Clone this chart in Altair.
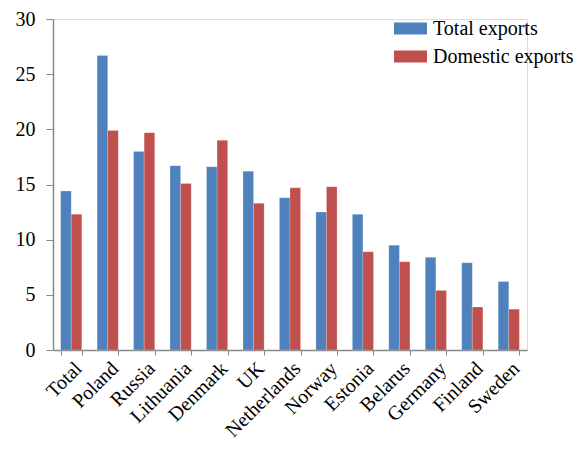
import altair as alt
import pandas as pd

countries = ["Total", "Poland", "Russia", "Lithuania", "Denmark", "UK", "Netherlands",
             "Norway", "Estonia", "Belarus", "Germany", "Finland", "Sweden"]
total_exports = [14.4, 26.7, 18.0, 16.7, 16.6, 16.2, 13.8, 12.5, 12.3, 9.5, 8.4, 7.9, 6.2]
domestic_exports = [12.3, 19.9, 19.7, 15.1, 19.0, 13.3, 14.7, 14.8, 8.9, 8.0, 5.4, 3.9, 3.7]
series = ["Total exports", "Domestic exports"]
colors = ["#4F81BD", "#C0504D"]

rows = []
for i, c in enumerate(countries):
    rows.append({"country": c, "series": series[0], "value": total_exports[i]})
    rows.append({"country": c, "series": series[1], "value": domestic_exports[i]})
df = pd.DataFrame(rows)

FONT = "Liberation Serif"

chart = alt.Chart(df).mark_bar(stroke="#ffffff", strokeOpacity=0.4, strokeWidth=0.5).encode(
    x=alt.X("country:N", sort=countries, title=None,
            scale=alt.Scale(paddingInner=0.42, paddingOuter=0.21),
            axis=alt.Axis(labelAngle=-45, labelAlign="right", labelBaseline="top",
                          tickBand="extent", tickSize=5, labelPadding=3,
                          labelFont=FONT, labelFontSize=20, labelColor="#000000",
                          domainColor="#898989", tickColor="#898989", domainWidth=1.5)),
    xOffset=alt.XOffset("series:N", sort=series, scale=alt.Scale(paddingInner=0)),
    y=alt.Y("value:Q", title=None,
            scale=alt.Scale(domain=[0, 30]),
            axis=alt.Axis(values=[0, 5, 10, 15, 20, 25, 30], grid=False, tickSize=7,
                          labelPadding=11, labelFont=FONT, labelFontSize=20,
                          labelColor="#000000", domainColor="#898989",
                          tickColor="#898989", domainWidth=1.5)),
    color=alt.Color("series:N", sort=series,
                    scale=alt.Scale(domain=series, range=colors),
                    legend=alt.Legend(title=None, orient="none", legendX=341, legendY=-7,
                                      symbolType="M-1,-0.36H1V0.36H-1Z", symbolSize=1089,
                                      symbolStrokeWidth=0, labelFont=FONT, labelFontSize=20,
                                      labelColor="#000000", labelOffset=6, rowPadding=1,
                                      padding=0, labelLimit=300)),
).properties(
    width=474, height=331,
    autosize=alt.AutoSizeParams(type="none"),
    padding={"left": 45, "top": 11, "right": 50, "bottom": 92},
).configure_view(stroke=None).configure(background="white")

chart.save("out.html", embed_options={"renderer": "svg", "actions": False})
